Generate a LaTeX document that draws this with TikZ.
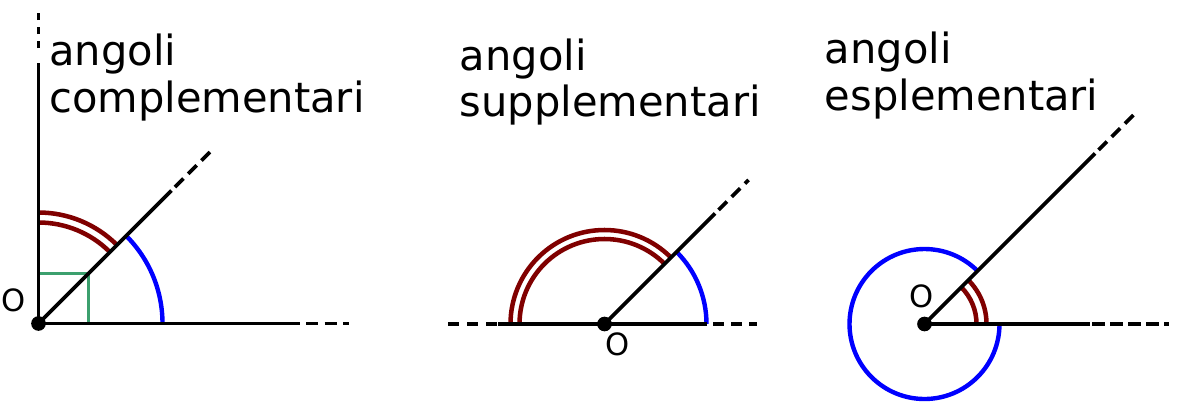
\documentclass[tikz,border=0pt]{standalone}
\usepackage{fontspec}
\setmainfont{DejaVu Sans}
\definecolor{arcred}{RGB}{128,0,0}
\definecolor{arcblue}{RGB}{0,0,255}
\definecolor{sqgreen}{RGB}{60,160,110}
\begin{document}
\begin{tikzpicture}[x=0.75pt,y=0.75pt,
  ray/.style={line width=2.7pt, black},
  dray/.style={ray, dash pattern=on 9pt off 5pt},
  bluearc/.style={arcblue, line width=3.3pt},
  redarc/.style={arcred, line width=3.4pt},
  title/.style={anchor=base west, inner sep=0pt, font=\fontsize{31.2}{36}\selectfont},
  olabel/.style={inner sep=0pt, font=\fontsize{23}{27}\selectfont},
  dot/.style={circle, fill=black, inner sep=0pt, minimum size=11pt}
]
\useasboundingbox (0,0) rectangle (1184,-408);
\fill[white] (0,0) rectangle (1184,-408);

% ---------- panel 1: complementari ----------
\coordinate (O1) at (38.5,-323.5);
\coordinate (V1s) at (38.5,-63);
\coordinate (V1a) at (38.5,-48);
\coordinate (V1b) at (38.5,-13);
\coordinate (H1s) at (300,-323.5);
\coordinate (H1a) at (306,-323.5);
\coordinate (H1b) at (349,-323.5);
\coordinate (D1s) at (171.5,-190.5);
\coordinate (D1a) at (175,-187);
\coordinate (D1b) at (211,-151);
\coordinate (S1) at (88.5,-273.5);

\draw[sqgreen, line width=1.6pt] (O1) rectangle (S1);
\draw[bluearc] (O1) ++(0:124) arc[start angle=0, end angle=45, radius=124];
\draw[redarc] (O1) ++(45:111) arc[start angle=45, end angle=90, radius=111];
\draw[redarc] (O1) ++(45:101) arc[start angle=45, end angle=90, radius=101];
\draw[ray] (O1) -- (V1s);
\draw[ray, dash pattern=on 5.25pt off 5.25pt] (V1a) -- (V1b);
\draw[ray] (O1) -- (H1s);
\draw[dray] (H1a) -- (H1b);
\draw[ray] (O1) -- (D1s);
\draw[dray] (D1a) -- (D1b);
\node[dot] (d1) at (O1) {};
\node[olabel] (o1) at (13.8,-300.8) {O};
\node[title] (t1a) at (49,-65.5) {angoli};
\node[title] (t1b) at (49,-112.5) {complementari};

% ---------- panel 2: supplementari ----------
\coordinate (O2) at (604.5,-324);
\coordinate (H2a) at (448,-324);
\coordinate (H2b) at (498,-324);
\coordinate (H2c) at (707,-324);
\coordinate (H2d) at (713,-324);
\coordinate (H2e) at (757,-324);
\coordinate (D2s) at (715,-213.5);
\coordinate (D2a) at (718.5,-210);
\coordinate (D2b) at (748.5,-180);

\draw[bluearc] (O2) ++(0:102) arc[start angle=0, end angle=45, radius=102];
\draw[redarc] (O2) ++(45:94) arc[start angle=45, end angle=180, radius=94];
\draw[redarc] (O2) ++(45:85) arc[start angle=45, end angle=180, radius=85];
\draw[dray, dash pattern=on 8.5pt off 5.75pt] (H2a) -- (H2b);
\draw[ray] (H2b) -- (H2c);
\draw[dray, dash pattern=on 8.25pt off 5.25pt] (H2d) -- (H2e);
\draw[ray] (O2) -- (D2s);
\draw[dray] (D2a) -- (D2b);
\node[dot] (d2) at (O2) {};
\node[olabel] (o2) at (617.5,-344) {O};
\node[title] (t2a) at (459.5,-70) {angoli};
\node[title] (t2b) at (459.5,-116.7) {supplementari};

% ---------- panel 3: esplementari ----------
\coordinate (O3) at (924.5,-324);
\coordinate (H3s) at (1090,-324);
\coordinate (H3a) at (1092,-324);
\coordinate (H3b) at (1169,-324);
\coordinate (D3s) at (1095,-153.5);
\coordinate (D3a) at (1098.5,-150);
\coordinate (D3b) at (1136,-112.5);

\draw[bluearc] (O3) ++(45:75) arc[start angle=45, end angle=360, radius=75];
\draw[redarc] (O3) ++(0:62) arc[start angle=0, end angle=45, radius=62];
\draw[redarc] (O3) ++(0:52) arc[start angle=0, end angle=45, radius=52];
\draw[ray] (O3) -- (H3s);
\draw[dray, dash pattern=on 9.75pt off 3.75pt] (H3a) -- (H3b);
\draw[ray] (O3) -- (D3s);
\draw[dray] (D3a) -- (D3b);
\node[dot] (d3) at (O3) {};
\node[olabel] (o3) at (921.7,-296.7) {O};
\node[title] (t3a) at (824.5,-63.3) {angoli};
\node[title] (t3b) at (824.5,-110) {esplementari};
\end{tikzpicture}
\end{document}
